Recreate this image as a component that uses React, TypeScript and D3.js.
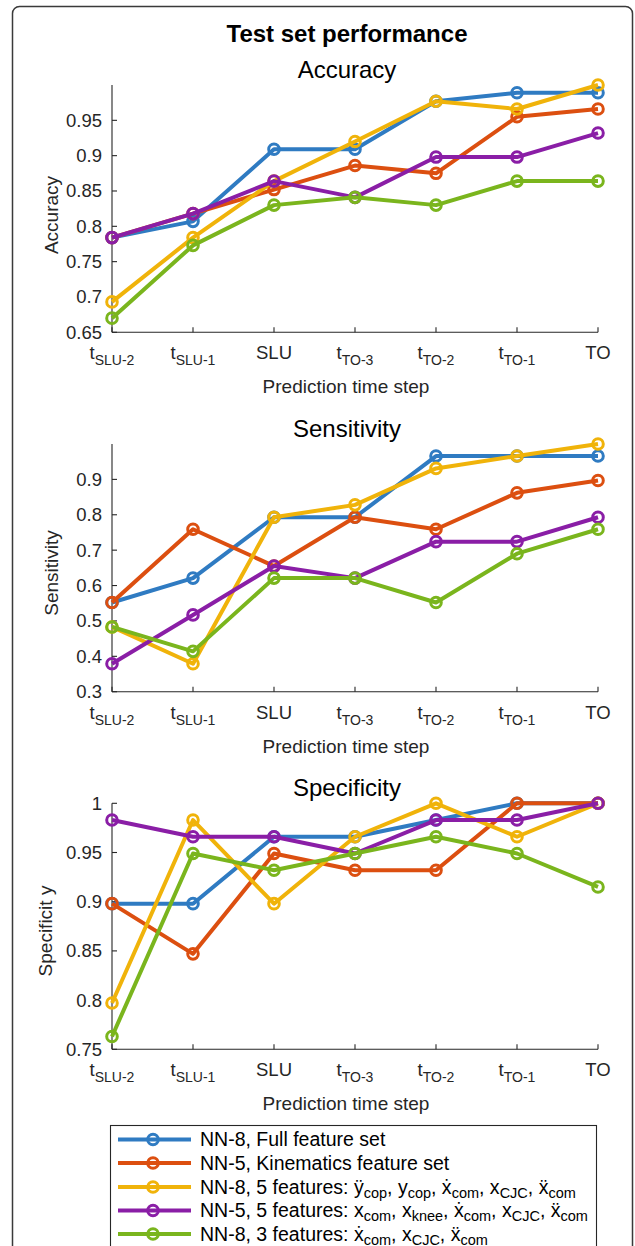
import React from "react";
import * as d3 from "d3";

// ---------- data ----------
const tickMain = ["t", "t", "SLU", "t", "t", "t", "TO"];
const tickSub = ["SLU-2", "SLU-1", "", "TO-3", "TO-2", "TO-1", ""];
const categories = [0, 1, 2, 3, 4, 5, 6];

const seriesNames = ["blue", "red", "yellow", "purple", "green"];
const seriesColors = ["#2f7bc2", "#dc4f10", "#f0b30a", "#8a1ea6", "#7ab51d"];

const accBlue = [0.784, 0.807, 0.909, 0.909, 0.977, 0.989, 0.989];
const accRed = [0.784, 0.818, 0.852, 0.886, 0.875, 0.955, 0.966];
const accYellow = [0.693, 0.784, 0.864, 0.920, 0.977, 0.966, 1.0];
const accPurple = [0.784, 0.818, 0.864, 0.841, 0.898, 0.898, 0.932];
const accGreen = [0.670, 0.773, 0.830, 0.841, 0.830, 0.864, 0.864];

const senBlue = [0.552, 0.621, 0.793, 0.793, 0.966, 0.966, 0.966];
const senRed = [0.552, 0.759, 0.655, 0.793, 0.759, 0.862, 0.897];
const senYellow = [0.483, 0.379, 0.793, 0.828, 0.931, 0.966, 1.0];
const senPurple = [0.379, 0.517, 0.655, 0.621, 0.724, 0.724, 0.793];
const senGreen = [0.483, 0.414, 0.621, 0.621, 0.552, 0.690, 0.759];

const speBlue = [0.898, 0.898, 0.966, 0.966, 0.983, 1.0, 1.0];
const speRed = [0.898, 0.847, 0.949, 0.932, 0.932, 1.0, 1.0];
const speYellow = [0.797, 0.983, 0.898, 0.966, 1.0, 0.966, 1.0];
const spePurple = [0.983, 0.966, 0.966, 0.949, 0.983, 0.983, 1.0];
const speGreen = [0.763, 0.949, 0.932, 0.949, 0.966, 0.949, 0.915];

const accTicks = [0.65, 0.7, 0.75, 0.8, 0.85, 0.9, 0.95];
const senTicks = [0.3, 0.4, 0.5, 0.6, 0.7, 0.8, 0.9];
const speTicks = [0.75, 0.8, 0.85, 0.9, 0.95, 1.0];

const mainTitle = "Test set performance";
const xLabel = "Prediction time step";

// legend labels: [text, isSub]
const legendLabels: [string, boolean][][] = [
  [["NN-8, Full feature set", false]],
  [["NN-5, Kinematics feature set", false]],
  [["NN-8, 5 features: \u00ff", false], ["cop", true], [", y", false], ["cop", true], [", \u1e8b", false], ["com", true], [", x", false], ["CJC", true], [", \u1e8d", false], ["com", true]],
  [["NN-5, 5 features: x", false], ["com", true], [", x", false], ["knee", true], [", \u1e8b", false], ["com", true], [", x", false], ["CJC", true], [", \u1e8d", false], ["com", true]],
  [["NN-8, 3 features: \u1e8b", false], ["com", true], [", x", false], ["CJC", true], [", \u1e8d", false], ["com", true]],
];

// ---------- layout ----------
const W = 635;
const H = 1246;
const X0 = 112;
const X1 = 598;
const FONT = "'Liberation Sans', Arial, Helvetica, 'DejaVu Sans', sans-serif";
const AX = "#262626";

const panels = [
  { title: "Accuracy", ylabel: "Accuracy", top: 85, bottom: 332.3, domain: [0.65, 1.0], ticks: accTicks, ylx: 58, yly: 215,
    data: [accBlue, accRed, accYellow, accPurple, accGreen] },
  { title: "Sensitivity", ylabel: "Sensitivity", top: 444, bottom: 691.7, domain: [0.3, 1.0], ticks: senTicks, ylx: 58, yly: 573,
    data: [senBlue, senRed, senYellow, senPurple, senGreen] },
  { title: "Specificity", ylabel: "Specificit y", top: 803.3, bottom: 1049.3, domain: [0.75, 1.0], ticks: speTicks, ylx: 52, yly: 931,
    data: [speBlue, speRed, speYellow, spePurple, speGreen] },
];

const fmt = (v: number) => String(+v.toFixed(2));

function Panel({ p }: { p: (typeof panels)[number] }) {
  const x = d3.scalePoint<number>().domain(categories).range([X0, X1]);
  const y = d3.scaleLinear().domain(p.domain).range([p.bottom, p.top]);
  const line = d3
    .line<number>()
    .x((_, i) => x(categories[i]) as number)
    .y((d) => y(d));
  return (
    <g>
      <text x={347} y={p.top - 7} textAnchor="middle" fontSize={24} fill="#000" fontFamily={FONT}>
        {p.title}
      </text>
      {/* axes */}
      <line x1={X0} x2={X0} y1={p.top} y2={p.bottom} stroke={AX} strokeWidth={1.1} />
      <line x1={X0} x2={X1} y1={p.bottom} y2={p.bottom} stroke={AX} strokeWidth={1.1} />
      {p.ticks.map((t) => (
        <g key={t}>
          <line x1={X0} x2={X0 + 5} y1={y(t)} y2={y(t)} stroke={AX} strokeWidth={1.1} />
          <text x={X0 - 10} y={y(t) + 6.5} textAnchor="end" fontSize={18.5} fill={AX} fontFamily={FONT}>
            {fmt(t)}
          </text>
        </g>
      ))}
      {categories.map((c, i) => (
        <g key={c}>
          <line x1={x(c)} x2={x(c)} y1={p.bottom} y2={p.bottom - 5} stroke={AX} strokeWidth={1.1} />
          <text x={x(c)} y={p.bottom + 27} textAnchor="middle" fontSize={18.5} fill={AX} fontFamily={FONT}>
            {tickMain[i]}
            {tickSub[i] ? (
              <tspan fontSize={14} dy={6}>
                {tickSub[i]}
              </tspan>
            ) : null}
          </text>
        </g>
      ))}
      <text x={346} y={p.bottom + 61} textAnchor="middle" fontSize={19} fill={AX} fontFamily={FONT}>
        {xLabel}
      </text>
      <text
        transform={`translate(${p.ylx},${p.yly}) rotate(-90)`}
        textAnchor="middle"
        fontSize={19}
        fill={AX}
        fontFamily={FONT}
      >
        {p.ylabel}
      </text>
      {/* series */}
      {p.data.map((vals, si) => (
        <g key={seriesNames[si]}>
          <path d={line(vals) || ""} fill="none" stroke={seriesColors[si]} strokeWidth={4} strokeLinejoin="round" />
          {vals.map((v, i) => (
            <circle key={i} cx={x(categories[i])} cy={y(v)} r={5.3} fill="none" stroke={seriesColors[si]} strokeWidth={3} />
          ))}
        </g>
      ))}
    </g>
  );
}

function Legend() {
  const rows = [1139.5, 1163, 1187, 1210.5, 1234];
  return (
    <g>
      <rect x={110.5} y={1125.5} width={486} height={140} fill="#fff" stroke={AX} strokeWidth={1.1} />
      {legendLabels.map((segs, i) => (
        <g key={i}>
          <line x1={118} x2={191} y1={rows[i]} y2={rows[i]} stroke={seriesColors[i]} strokeWidth={4} />
          <circle cx={153} cy={rows[i]} r={5.3} fill="none" stroke={seriesColors[i]} strokeWidth={3} />
          <text x={200} y={rows[i] + 6.5} fontSize={19.5} fill="#000" fontFamily={FONT}>
            {segs.map(([t, sub], k) => {
              const prevSub = k > 0 && segs[k - 1][1];
              const dy = sub ? 4 : prevSub ? -4 : 0;
              return (
                <tspan key={k} fontSize={sub ? 14.5 : 19.5} dy={dy}>
                  {t}
                </tspan>
              );
            })}
          </text>
        </g>
      ))}
    </g>
  );
}

export default function App() {
  return (
    <svg
      width={W}
      height={H}
      viewBox={`0 0 ${W} ${H}`}
      style={{ position: "absolute", left: 0, top: 0, background: "#fff" }}
    >
      <rect x={0} y={0} width={W} height={H} fill="#fff" />
      <rect x={12.5} y={6.5} width={620} height={1300} rx={7} fill="none" stroke="#3a3a3a" strokeWidth={1.5} />
      <text x={347} y={41.5} textAnchor="middle" fontSize={24} fontWeight="bold" fill="#000" fontFamily={FONT}>
        {mainTitle}
      </text>
      {panels.map((p) => (
        <Panel key={p.title} p={p} />
      ))}
      <Legend />
    </svg>
  );
}
